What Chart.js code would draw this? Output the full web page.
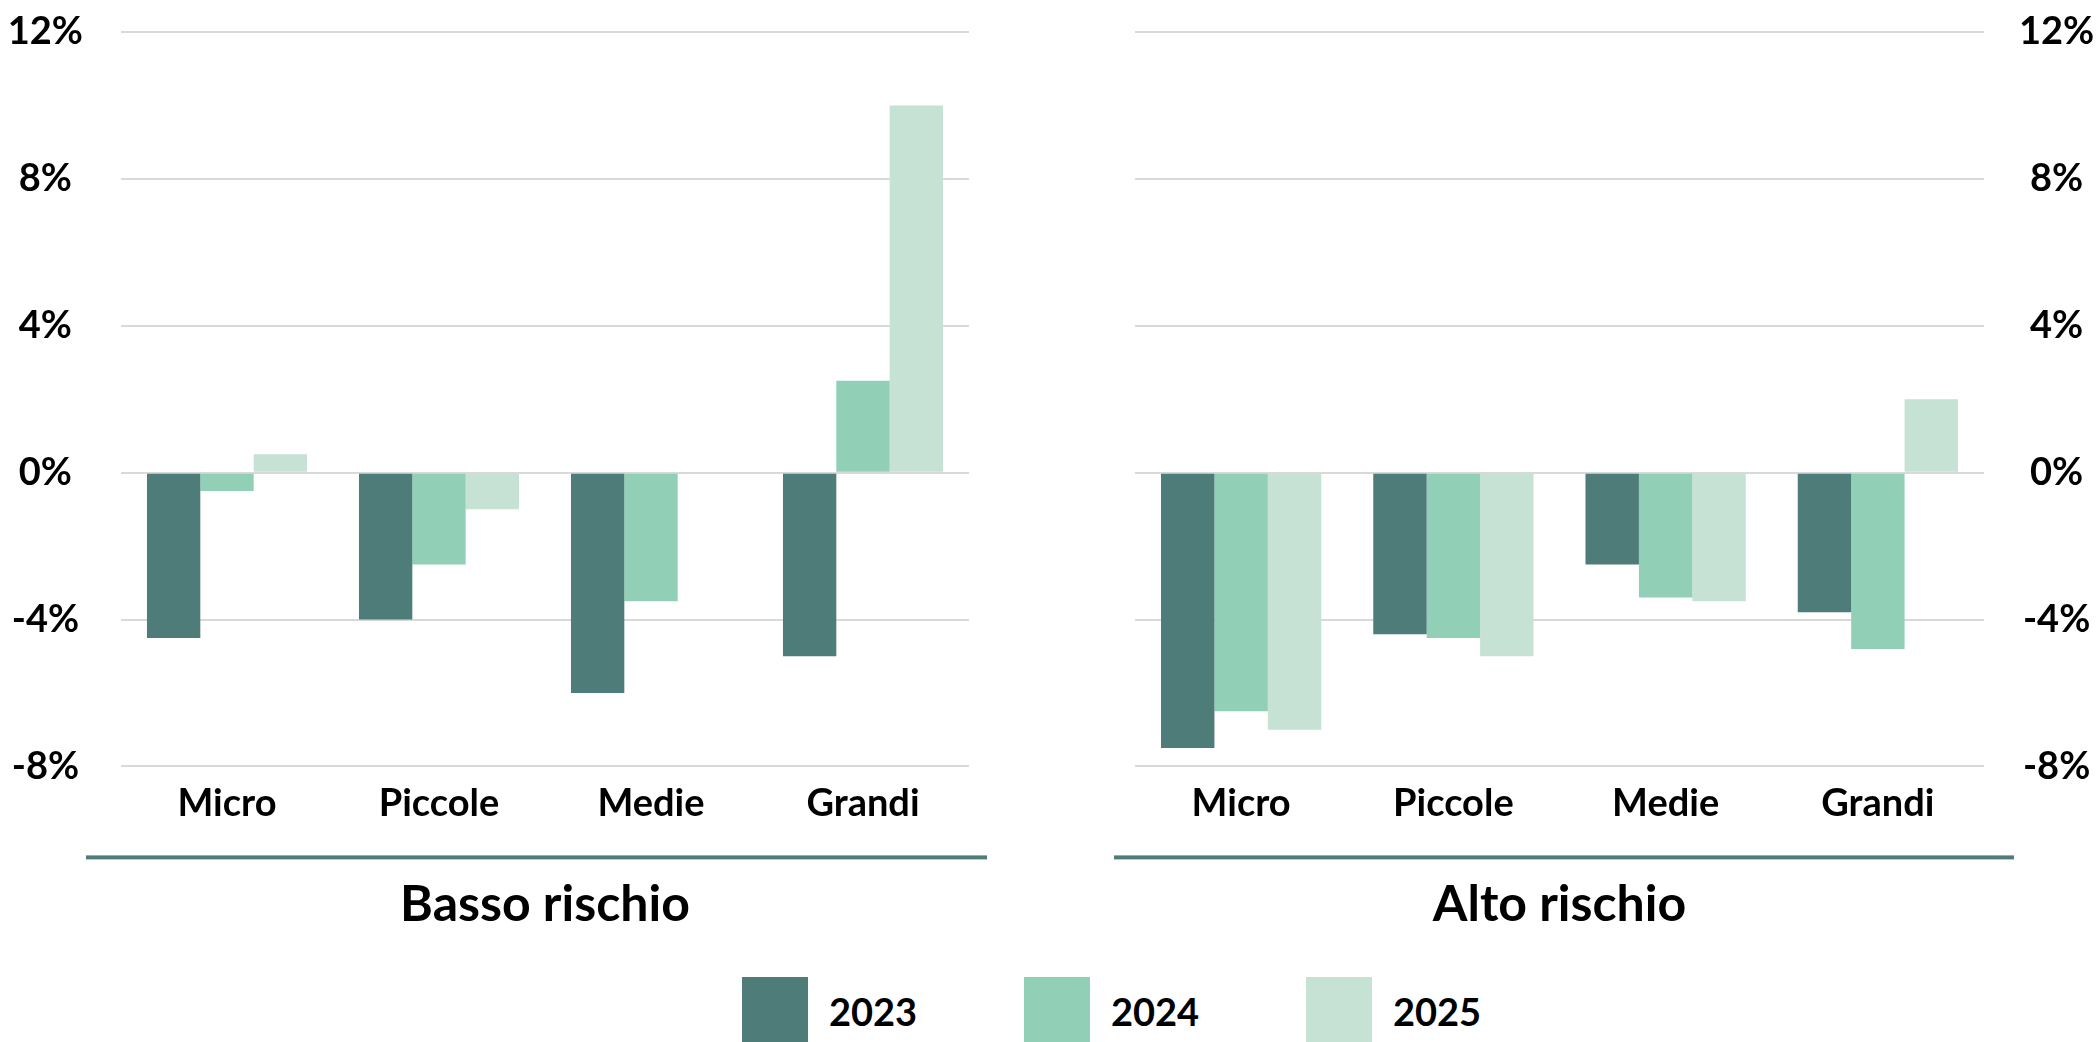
<!DOCTYPE html>
<html>
<head>
<meta charset="utf-8">
<script src="https://cdn.jsdelivr.net/npm/chart.js@4.4.0/dist/chart.umd.min.js"></script>
<style>
  body { margin: 0; width: 2096px; height: 1042px; overflow: hidden; background: #fff; font-family: Lato, sans-serif; }
  #leftChart { position: absolute; left: 0; top: 0; }
  #rightChart { position: absolute; left: 1050px; top: 0; }
  #legend { position: absolute; left: 742px; top: 977px; display: flex; }
  .item { width: 282px; height: 80px; position: relative; }
  .swatch { position: absolute; left: 0; top: 0; width: 66px; height: 80px; }
  .lbl { position: absolute; left: 87px; top: 15px; font: 700 38px Lato, sans-serif; line-height: 38px; color: #000; }
</style>
</head>
<body>
<canvas id="leftChart" width="1000" height="960"></canvas>
<canvas id="rightChart" width="1046" height="960"></canvas>
<div id="legend"></div>
<script>
const categories = ['Micro', 'Piccole', 'Medie', 'Grandi'];
const years = ['2023', '2024', '2025'];
const yearColors = ['#4e7c79', '#91cfb6', '#c5e2d5'];
const yTicks = [-8, -4, 0, 4, 8, 12];

// Basso rischio
const basso2023 = [-4.5, -4.0, -6.0, -5.0];
const basso2024 = [-0.5, -2.5, -3.5, 2.5];
const basso2025 = [0.5, -1.0, null, 10.0];

// Alto rischio
const alto2023 = [-7.5, -4.4, -2.5, -3.8];
const alto2024 = [-6.5, -4.5, -3.4, -4.8];
const alto2025 = [-7.0, -5.0, -3.5, 2.0];

const tealLine = {
  id: 'tealLine',
  afterDraw(chart, args, opts) {
    const {ctx, chartArea} = chart;
    ctx.save();
    ctx.fillStyle = '#4e7c79';
    ctx.fillRect(chartArea.left + opts.fromX, chartArea.bottom + 89,
                 chartArea.right - chartArea.left + opts.toX - opts.fromX, 4);
    ctx.restore();
  }
};

function makeChart(id, title, series, side, axisW, tickPad, pad, line) {
  const ctx = document.getElementById(id).getContext('2d');
  return new Chart(ctx, {
    type: 'bar',
    data: {
      labels: categories,
      datasets: years.map((y, i) => ({
        label: y,
        data: series[i],
        backgroundColor: yearColors[i],
        borderWidth: 0,
        categoryPercentage: 0.755,
        barPercentage: 1.0
      }))
    },
    options: {
      responsive: false,
      animation: false,
      layout: { padding: pad },
      plugins: {
        legend: { display: false },
        tooltip: { enabled: false },
        tealLine: line
      },
      scales: {
        x: {
          grid: { display: false, drawTicks: false },
          border: { display: false },
          ticks: { color: '#000', font: { family: 'Lato', size: 38, weight: 'bold' }, padding: 15 },
          title: {
            display: true, text: title, color: '#000',
            font: { family: 'Lato', size: 50, weight: 'bold' },
            padding: { top: 33, bottom: 0 }
          }
        },
        y: {
          position: side,
          min: yTicks[0],
          max: yTicks[yTicks.length - 1],
          afterBuildTicks: (s) => { s.ticks = yTicks.map(v => ({ value: v })); },
          afterFit: (s) => {
            s.width = axisW;
            s.paddingTop = 0;
            s.paddingBottom = 0;
          },
          grid: { color: '#d9d9d9', lineWidth: 2, drawTicks: false },
          border: { display: false },
          ticks: {
            color: '#000',
            font: { family: 'Lato', size: 38, weight: 'bold' },
            crossAlign: 'center',
            padding: tickPad,
            callback: (v) => v + '%'
          }
        }
      }
    },
    plugins: [tealLine]
  });
}

makeChart('leftChart', 'Basso rischio', [basso2023, basso2024, basso2025], 'left', 121, 38,
  { top: 32, bottom: 25, left: 0, right: 31 }, { fromX: -35, toX: 18 });
makeChart('rightChart', 'Alto rischio', [alto2023, alto2024, alto2025], 'right', 112, 35,
  { top: 32, bottom: 25, left: 85, right: 0 }, { fromX: -21, toX: 30 });

// legend
const legend = document.getElementById('legend');
years.forEach((y, i) => {
  const item = document.createElement('div');
  item.className = 'item';
  item.innerHTML = '<div class="swatch" style="background:' + yearColors[i] + '"></div><div class="lbl">' + y + '</div>';
  legend.appendChild(item);
});
</script>
</body>
</html>
